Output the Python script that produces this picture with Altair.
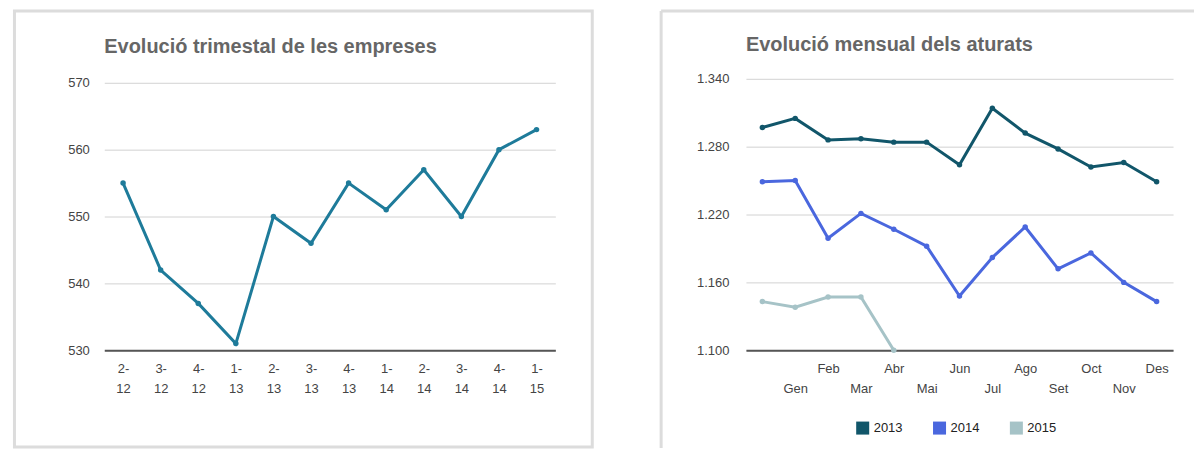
import json

import altair as alt
import pandas as pd

# ---- data -------------------------------------------------------------
# Quarterly number of companies (quarter-year)
quarters = ["2-12", "3-12", "4-12", "1-13", "2-13", "3-13",
            "4-13", "1-14", "2-14", "3-14", "4-14", "1-15"]
companies = [555, 542, 537, 531, 550, 546, 555, 551, 557, 550, 560, 563]

# Monthly unemployed; the first slot is the previous December (no label)
months = ["", "Gen", "Feb", "Mar", "Abr", "Mai", "Jun",
          "Jul", "Ago", "Set", "Oct", "Nov", "Des"]
unemployed_2013 = [1297, 1305, 1286, 1287, 1284, 1284, 1264,
                   1314, 1292, 1278, 1262, 1266, 1249]
unemployed_2014 = [1249, 1250, 1199, 1221, 1207, 1192, 1148,
                   1182, 1209, 1172, 1186, 1160, 1143]
unemployed_2015 = [1143, 1138, 1147, 1147, 1100]

years = ["2013", "2014", "2015"]
year_colors = ["#11566a", "#4a67de", "#a6c3c7"]

left_ticks = [530, 540, 550, 560, 570]
right_ticks = [1100, 1160, 1220, 1280, 1340]

# ---- styling ------------------------------------------------------------
FONT = "Liberation Sans"
BORDER = "#dcdcdc"
GRID = "#d2d2d2"
AXIS_LINE = "#555555"
LINE_BLUE = "#1e7b9a"

df_q = pd.DataFrame({"trimestre": quarters, "empreses": companies})

rows = []
for year, series in zip(years, [unemployed_2013, unemployed_2014, unemployed_2015]):
    for i, v in enumerate(series):
        rows.append({"pos": i, "any": year, "aturats": v})
df_m = pd.DataFrame(rows)

one = pd.DataFrame({"k": [0]})


def heading(text, y):
    return alt.Chart(one).mark_text(
        text=text, align="left", baseline="alphabetic", font=FONT,
        fontSize=20, fontWeight="bold", color="#666666",
    ).encode(x=alt.value(0), y=alt.value(y))


# ---- left panel: companies per quarter ------------------------------------
# the plot area starts a few pixels above the 570 gridline
W1, H1 = 452, 272

frame_left = alt.Chart(one).mark_rect(
    fill="transparent", stroke=BORDER, strokeWidth=3
).encode(x=alt.value(-90), x2=alt.value(489), y=alt.value(-68), y2=alt.value(369))

line_q = alt.Chart(df_q).mark_line(
    color=LINE_BLUE, strokeWidth=3,
    point=alt.OverlayMarkDef(color=LINE_BLUE, size=30, filled=True),
).encode(
    x=alt.X(
        "trimestre:O", sort=quarters, scale=alt.Scale(padding=0.5),
        axis=alt.Axis(
            title=None, labelAngle=0, ticks=False, grid=False,
            labelExpr="[substring(datum.value, 0, 2), substring(datum.value, 2)]",
            labelLineHeight=20, labelPadding=12,
            domainColor=AXIS_LINE, domainWidth=2,
        ),
    ),
    y=alt.Y(
        "empreses:Q",
        scale=alt.Scale(domain=[530, 570.6], nice=False, zero=False),
        axis=alt.Axis(
            title=None, values=left_ticks, grid=True, gridColor=GRID,
            domain=False, ticks=False, labelPadding=15,
        ),
    ),
)

left = alt.layer(
    frame_left, heading("Evolució trimestal de les empreses", -26), line_q
).properties(width=W1, height=H1)

# ---- right panel: unemployed per month ------------------------------------
W2, H2 = 428, 272

edge_left = alt.Chart(one).mark_rule(stroke=BORDER, strokeWidth=3).encode(
    x=alt.value(-85), y=alt.value(-68), y2=alt.value(370)
)
edge_top = alt.Chart(one).mark_rule(stroke=BORDER, strokeWidth=3).encode(
    x=alt.value(-85), x2=alt.value(449), y=alt.value(-68)
)

month_list = json.dumps(months)
lines_m = alt.Chart(df_m).mark_line(
    strokeWidth=3, point=alt.OverlayMarkDef(size=30, filled=True)
).encode(
    x=alt.X(
        "pos:O", scale=alt.Scale(domain=list(range(len(months))), padding=0.5),
        axis=alt.Axis(
            title=None, labelAngle=0, ticks=False, grid=False,
            labelExpr=f"datum.value % 2 == 1 ? ['', {month_list}[datum.value]] : {month_list}[datum.value]",
            labelLineHeight=20, labelPadding=12,
            domainColor=AXIS_LINE, domainWidth=2,
        ),
    ),
    y=alt.Y(
        "aturats:Q",
        scale=alt.Scale(domain=[1100, 1340], nice=False, zero=False),
        axis=alt.Axis(
            title=None, values=right_ticks, grid=True, gridColor=GRID,
            domain=False, ticks=False, labelPadding=17,
            labelExpr="replace(format(datum.value, ','), ',', '.')",
        ),
    ),
    color=alt.Color(
        "any:N",
        scale=alt.Scale(domain=years, range=year_colors),
        legend=alt.Legend(
            title=None, orient="none", legendX=110, legendY=343,
            direction="horizontal", symbolType="square", symbolSize=170,
            symbolStrokeWidth=0, labelFont=FONT, labelFontSize=13,
            labelColor="#222222", columnPadding=30, labelOffset=4,
        ),
    ),
)

right = alt.layer(
    edge_left, edge_top, heading("Evolució mensual dels aturats", -28), lines_m
).properties(width=W2, height=H2)

chart = alt.hconcat(left, right, spacing=65).resolve_scale(
    color="independent"
).properties(
    padding={"left": 12.5, "top": 8.5, "right": 0, "bottom": 0},
    background="white",
).configure_view(strokeWidth=0).configure_axis(
    labelFont=FONT, labelFontSize=13, labelColor="#444444"
)

chart.save("out.html", embed_options={"renderer": "svg", "actions": False})
